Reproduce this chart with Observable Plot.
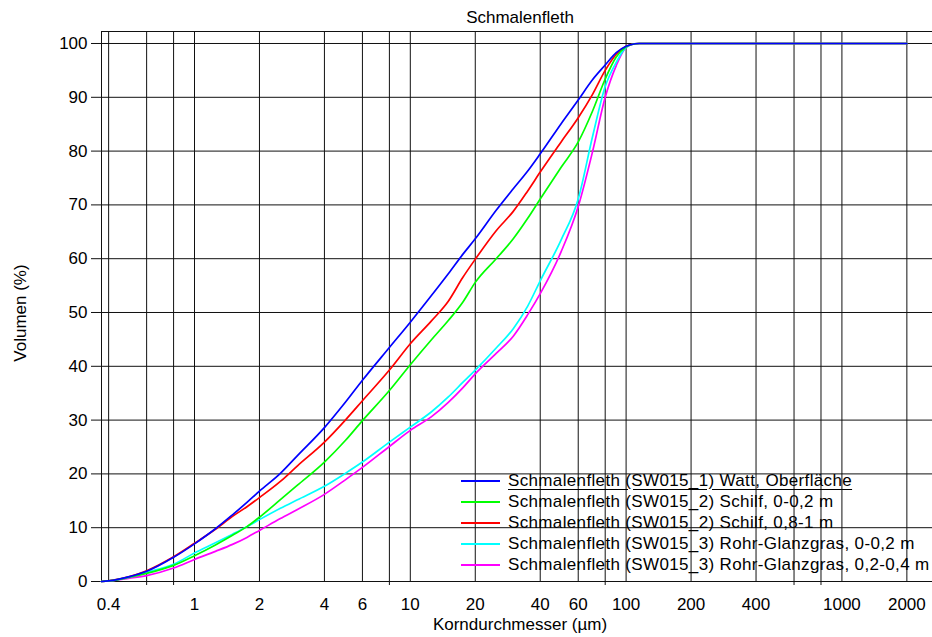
<!DOCTYPE html>
<html>
<head>
<meta charset="utf-8">
<script src="https://cdn.jsdelivr.net/npm/d3@7"></script>
<script src="https://cdn.jsdelivr.net/npm/@observablehq/plot@0.6"></script>
<style>
  body { margin: 0; background: #fff; }
  #chart { position: relative; width: 932px; height: 637px; font-family: "Liberation Sans", Arial, sans-serif; color: #000; }
  #chart svg { position: absolute; left: 0; top: 0; }
  .txt { position: absolute; font-size: 17px; line-height: 17px; white-space: nowrap; }
  #title { left: 420px; top: 9px; width: 200px; text-align: center; }
  #xlabel { left: 370px; top: 616px; width: 300px; text-align: center; }
  #ylabel { left: 12px; top: 413px; width: 200px; text-align: center; transform-origin: 0 0; transform: rotate(-90deg); }
  #legend { position: absolute; left: 461px; top: 470px; font-size: 17px; letter-spacing: 0.35px; }
  #legend .row { display: flex; align-items: center; height: 21px; line-height: 21px; white-space: nowrap; }
  #legend .swatch { width: 39px; height: 2px; margin-right: 8px; flex: none; }
  #legend .row.active .name { text-decoration: underline; text-underline-offset: 3px; }
</style>
</head>
<body>
<div id="chart"></div>
<script>
// Texts
const title = "Schmalenfleth";
const xLabel = "Korndurchmesser (µm)";
const yLabel = "Volumen (%)";

// Series (legend order) and their colours
const seriesNames = [
  "Schmalenfleth (SW015_1) Watt, Oberfläche",
  "Schmalenfleth (SW015_2) Schilf, 0-0,2 m",
  "Schmalenfleth (SW015_2) Schilf, 0,8-1 m",
  "Schmalenfleth (SW015_3) Rohr-Glanzgras, 0-0,2 m",
  "Schmalenfleth (SW015_3) Rohr-Glanzgras, 0,2-0,4 m"
];
const seriesColors = ["#0000ff", "#00ff00", "#ff0000", "#00ffff", "#ff00ff"];

// Grain size (µm) at which each cumulative volume is given
const grainSize = [0.37, 0.4, 0.5, 0.6, 0.8, 1, 1.25, 1.5, 1.75, 2, 2.5, 3, 4, 5, 6, 8, 10, 12.5, 15, 17.5,
                   20, 25, 30, 35, 40, 50, 60, 70, 80, 90, 100, 110, 115, 2000];

// Cumulative volume (%) per sample
const wattSurface = [0, 0.1, 0.9, 1.9, 4.5, 7.0, 9.8, 12.4, 14.7, 16.8, 20.1, 23.4, 28.6, 33.3, 37.4, 43.5, 48.2, 53.1, 57.2, 60.8,
                     63.7, 69.0, 73.0, 76.3, 79.5, 85.1, 89.5, 93.3, 96.0, 98.3, 99.5, 99.95, 100, 100];
const reedTop = [0, 0.1, 0.8, 1.5, 3.0, 4.8, 6.8, 8.6, 10.2, 11.95, 15.2, 17.9, 22.2, 26.2, 29.9, 35.5, 40.3, 44.9, 48.5, 51.9,
                 55.6, 60.0, 63.7, 67.5, 71.1, 77.0, 81.7, 87.5, 93.4, 97.5, 99.4, 99.95, 100, 100];
const reedDeep = [0, 0.1, 0.9, 2.0, 4.6, 7.1, 9.7, 12.1, 13.9, 15.6, 18.6, 21.5, 25.9, 30.0, 33.6, 39.3, 44.2, 48.4, 52.1, 56.5,
                  59.9, 65.2, 68.8, 72.6, 76.1, 81.7, 86.2, 90.6, 95.0, 98.0, 99.5, 99.95, 100, 100];
const canaryTop = [0, 0.1, 0.8, 1.7, 3.2, 5.3, 7.2, 8.8, 10.2, 11.5, 13.6, 15.2, 17.7, 20.1, 22.2, 25.9, 28.7, 31.5, 34.3, 37.0,
                   39.3, 43.4, 47.0, 51.2, 55.9, 63.5, 71.1, 82.8, 92.0, 96.5, 99.3, 99.95, 100, 100];
const canaryDeep = [0, 0.1, 0.6, 1.1, 2.5, 4.1, 5.6, 6.9, 8.2, 9.5, 11.7, 13.4, 16.2, 18.9, 21.2, 25.1, 28.1, 30.6, 33.3, 36.0,
                    38.6, 42.4, 45.6, 49.6, 53.5, 61.3, 69.7, 80.0, 90.0, 95.9, 99.3, 99.95, 100, 100];

const seriesValues = [wattSurface, reedTop, reedDeep, canaryTop, canaryDeep];

// Axis ticks
const xGridValues = [0.4, 0.6, 0.8, 1, 2, 4, 6, 8, 10, 20, 40, 60, 80, 100, 200, 400, 600, 800, 1000, 2000];
const xTickLabels = [0.4, 1, 2, 4, 6, 10, 20, 40, 60, 100, 200, 400, 1000, 2000];
const yTickValues = [0, 10, 20, 30, 40, 50, 60, 70, 80, 90, 100];

// Scale extents
const xDomain = [0.3707, 2629];
const yDomain = [0, 102.23];

// Long table, last legend entry first so the first series is drawn on top
const rows = [];
for (let s = seriesNames.length - 1; s >= 0; s--) {
  grainSize.forEach((g, i) => rows.push({size: g, volume: seriesValues[s][i], series: seriesNames[s]}));
}
const xMinorTicks = xGridValues.filter(v => !xTickLabels.includes(v));

const chart = Plot.plot({
  width: 932,
  height: 637,
  marginLeft: 101,
  marginRight: 0,
  marginTop: 31,
  marginBottom: 56,
  style: {fontFamily: "'Liberation Sans', Arial, sans-serif", fontSize: "17px", color: "#000", background: "transparent"},
  x: {type: "log", domain: xDomain, label: null},
  y: {domain: yDomain, label: null},
  color: {domain: seriesNames, range: seriesColors},
  marks: [
    Plot.ruleX(xGridValues, {stroke: "#111", strokeWidth: 1}),
    Plot.ruleY(yTickValues, {stroke: "#111", strokeWidth: 1}),
    Plot.ruleX([xDomain[0]], {stroke: "#111", strokeWidth: 1}),
    Plot.ruleY([yDomain[1]], {stroke: "#111", strokeWidth: 1}),
    // short tick marks below the frame for the unlabelled grid values
    Plot.axisX(xMinorTicks, {tickSize: 4, tickFormat: () => "", label: null, stroke: "#111"}),
    // x tick labels written out for every labelled grid value
    Plot.text(xTickLabels, {x: d => d, frameAnchor: "bottom", lineAnchor: "top", dy: 16, text: d => String(d), fontSize: 17, fill: "#000"}),
    Plot.axisY(yTickValues, {tickSize: 10, tickPadding: 4, tickFormat: d => String(d), label: null, fontSize: 17, stroke: "#111"}),
    Plot.line(rows, {x: "size", y: "volume", z: "series", stroke: "series", strokeWidth: 1.7, curve: "monotone-x"})
  ]
});

const root = document.getElementById("chart");
root.appendChild(chart);

function addText(id, text) {
  const el = document.createElement("div");
  el.id = id;
  el.className = "txt";
  el.textContent = text;
  root.appendChild(el);
}
addText("title", title);
addText("xlabel", xLabel);
addText("ylabel", yLabel);

// Legend inside the plot area
const legend = document.createElement("div");
legend.id = "legend";
seriesNames.forEach((name, i) => {
  const row = document.createElement("div");
  row.className = "row" + (i === 0 ? " active" : "");
  const sw = document.createElement("span");
  sw.className = "swatch";
  sw.style.background = seriesColors[i];
  const label = document.createElement("span");
  label.className = "name";
  label.textContent = name;
  row.appendChild(sw);
  row.appendChild(label);
  legend.appendChild(row);
});
root.appendChild(legend);
</script>
</body>
</html>
